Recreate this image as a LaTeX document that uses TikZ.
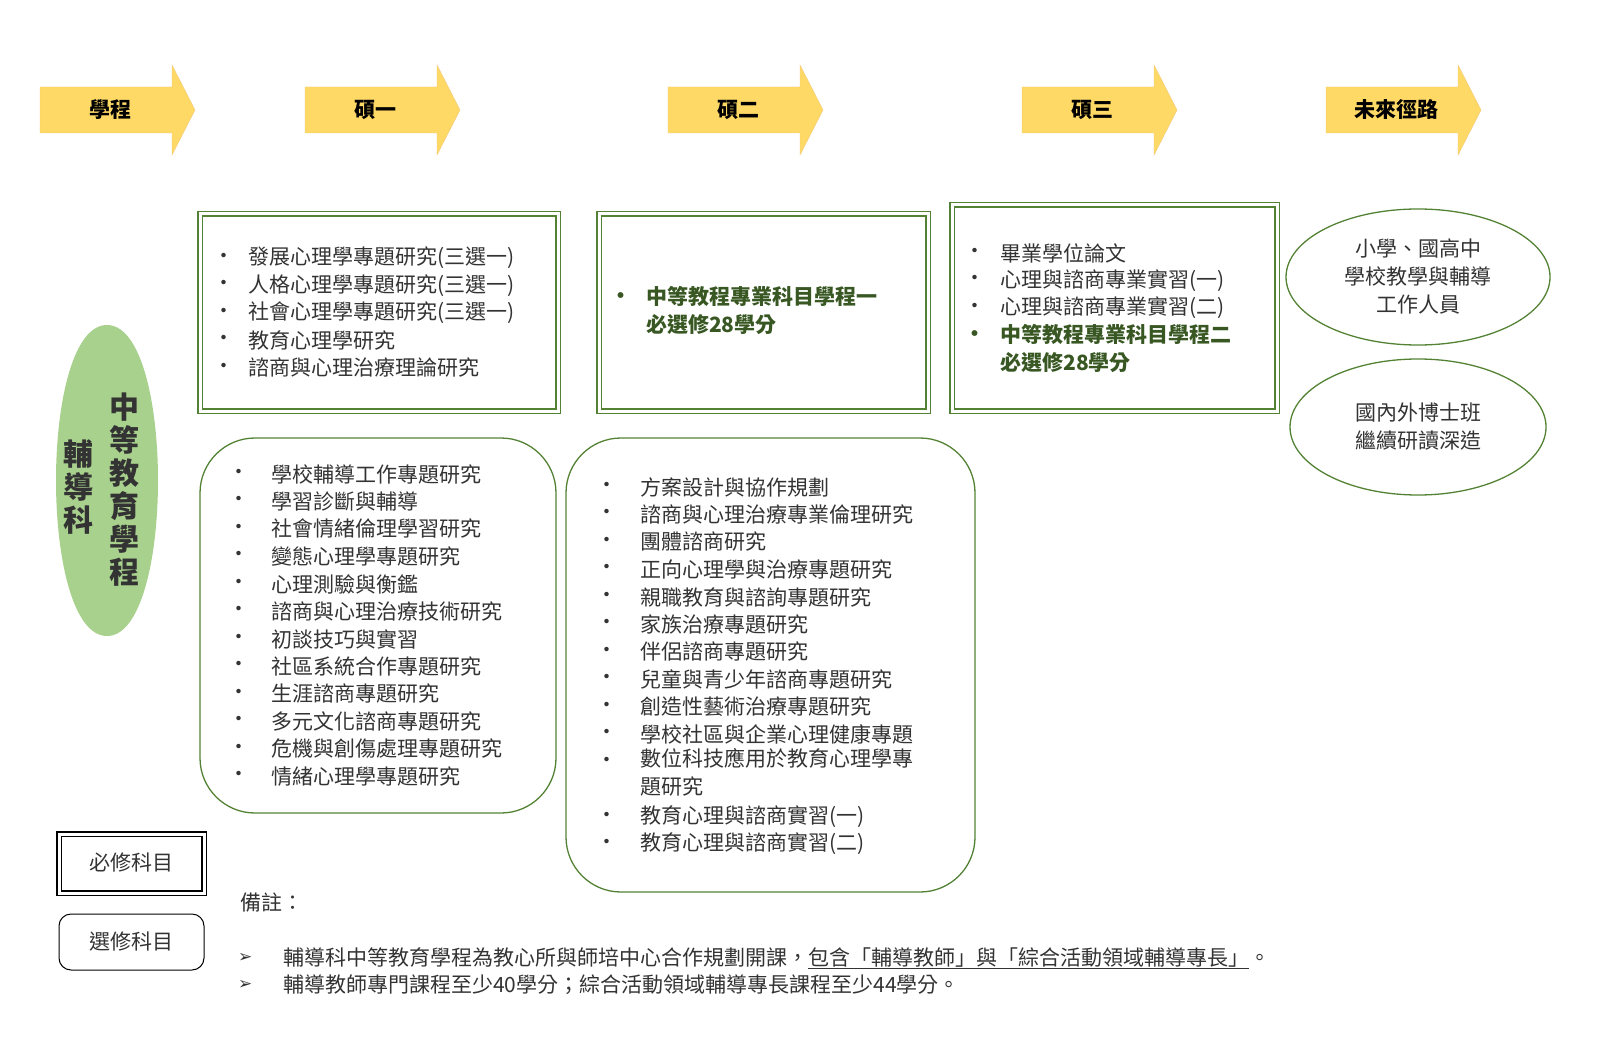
\documentclass[tikz,border=0pt]{standalone}
\usepackage{fontspec}
\setmainfont{Noto Sans CJK TC}
\newfontfamily\symfont{DejaVu Sans}
\usetikzlibrary{positioning,shapes.geometric}
\definecolor{arrowfill}{RGB}{255,217,102}
\definecolor{arrowline}{RGB}{240,200,120}
\definecolor{boxgreen}{RGB}{84,130,53}
\definecolor{pillgreen}{RGB}{169,209,142}
\definecolor{textgreen}{RGB}{56,87,35}
\tikzset{
  stepname/.style={font=\fontsize{21}{21}\selectfont\bfseries},
  item/.style={anchor=west,inner sep=0pt,font=\fontsize{21}{28}\selectfont,text=black!80},
  greenitem/.style={item,font=\fontsize{21}{28}\selectfont\bfseries,text=textgreen},
  dbox/.style={draw=boxgreen,double=white,double distance=3pt,line width=1.3pt},
  rbox/.style={draw=boxgreen,line width=1.3pt,rounded corners=55pt},
}
\newcommand{\blockarrow}[3]{% x, name, text
  \fill[arrowfill,draw=arrowline] (#1,87) -- (#1+132,87) -- (#1+132,65) -- (#1+155,110)
    -- (#1+132,155) -- (#1+132,133) -- (#1,133) -- cycle;
  \node[stepname] (#2) at (#1+70,110) {#3};}
\begin{document}
\begin{tikzpicture}[x=1pt,y=-1pt]
% top arrows
\blockarrow{40}{xuecheng}{學程}
\blockarrow{305}{shuoyi}{碩一}
\blockarrow{668}{shuoer}{碩二}
\blockarrow{1022}{shuosan}{碩三}
\blockarrow{1326}{weilai}{未來徑路}

% green pill
\fill[pillgreen] (107,325) .. controls (175,325) and (175,636) .. (107,636)
  .. controls (39,636) and (39,325) .. (107,325) -- cycle;
\node[font=\fontsize{30}{33}\selectfont\bfseries,text=black!80,align=center] (zhongdeng) at (124,490)
  {中\\等\\教\\育\\學\\程};
\node[font=\fontsize{30}{33}\selectfont\bfseries,text=black!80,align=center] (fudaoke) at (78,487)
  {輔\\導\\科};

% required boxes
\draw[dbox] (200,214) rectangle (558,411);
\foreach \t [count=\i from 0] in {發展心理學專題研究(三選一),人格心理學專題研究(三選一),
    社會心理學專題研究(三選一),教育心理學研究,諮商與心理治療理論研究}{
  \node[item] (ba\i) at (213,258+27.5*\i) {•};
  \node[item] (a\i) at (248,258+27.5*\i) {\t};
}
\draw[dbox] (599,214) rectangle (928,411);
\node[greenitem] (bb0) at (610,298) {•};
\node[greenitem,align=left,anchor=north west] (b0) at (646,286) {中等教程專業科目學程一\\必選修28學分};
\draw[dbox] (952,205) rectangle (1277,411);
\foreach \t [count=\i from 0] in {畢業學位論文,心理與諮商專業實習(一),心理與諮商專業實習(二)}{
  \node[item] (bc\i) at (964,253+27.5*\i) {•};
  \node[item] (c\i) at (1000,253+27.5*\i) {\t};
}
\node[greenitem] (bc3) at (964,336) {•};
\node[greenitem,align=left,anchor=north west] (c3) at (1000,324) {中等教程專業科目學程二\\必選修28學分};

% elective boxes
\draw[rbox] (200,438) rectangle (556,813);
\foreach \t [count=\i from 0] in {學校輔導工作專題研究,學習診斷與輔導,社會情緒倫理學習研究,
    變態心理學專題研究,心理測驗與衡鑑,諮商與心理治療技術研究,初談技巧與實習,
    社區系統合作專題研究,生涯諮商專題研究,多元文化諮商專題研究,危機與創傷處理專題研究,
    情緒心理學專題研究}{
  \node[item] (bd\i) at (228,474+27.5*\i) {•};
  \node[item] (d\i) at (271,474+27.5*\i) {\t};
}
\draw[rbox] (566,438) rectangle (975,892);
\foreach \t [count=\i from 0] in {方案設計與協作規劃,諮商與心理治療專業倫理研究,團體諮商研究,
    正向心理學與治療專題研究,親職教育與諮詢專題研究,家族治療專題研究,伴侶諮商專題研究,
    兒童與青少年諮商專題研究,創造性藝術治療專題研究,學校社區與企業心理健康專題}{
  \node[item] (be\i) at (596,487+27.5*\i) {•};
  \node[item] (e\i) at (640,487+27.5*\i) {\t};
}
\node[item] (be10) at (596,762) {•};
\node[item,align=left,anchor=north west] (e10) at (640,748) {數位科技應用於教育心理學專\\題研究};
\node[item] (be11) at (596,817) {•};
\node[item] (e11) at (640,817) {教育心理與諮商實習(一)};
\node[item] (be12) at (596,844) {•};
\node[item] (e12) at (640,844) {教育心理與諮商實習(二)};

% future paths
\node[draw=boxgreen,line width=1.3pt,ellipse,minimum width=264pt,minimum height=136pt,
  align=center,font=\fontsize{21}{28}\selectfont,text=black!80] (future1) at (1418,277)
  {小學、國高中\\學校教學與輔導\\工作人員};
\node[draw=boxgreen,line width=1.3pt,ellipse,minimum width=256pt,minimum height=136pt,
  align=center,font=\fontsize{21}{28}\selectfont,text=black!80] (future2) at (1418,427)
  {國內外博士班\\繼續研讀深造};

% legend
\draw[black,double=white,double distance=3pt,line width=1.3pt] (59,834) rectangle (204,893);
\node[font=\fontsize{21}{21}\selectfont,text=black!80] (bixiu) at (131,863) {必修科目};
\draw[black,line width=1pt,rounded corners=12pt] (59,914) rectangle (204,970);
\node[font=\fontsize{21}{21}\selectfont,text=black!80] (xuanxiu) at (131,942) {選修科目};

% notes
\node[item] (beizhu) at (240,903) {備註：};
\node[item,font=\symfont\bfseries\fontsize{17}{17}\selectfont] (n0b) at (238,958) {➢};
\node[item] (n0) at (283,958) {輔導科中等教育學程為教心所與師培中心合作規劃開課，\underline{包含「輔導教師」與「綜合活動領域輔導專長」}。};
\node[item,font=\symfont\bfseries\fontsize{17}{17}\selectfont] (n1b) at (238,985) {➢};
\node[item] (n1) at (283,985) {輔導教師專門課程至少40學分；綜合活動領域輔導專長課程至少44學分。};

\pgfresetboundingbox
\useasboundingbox (0,0) rectangle (1600,1059);
\end{tikzpicture}
\end{document}
